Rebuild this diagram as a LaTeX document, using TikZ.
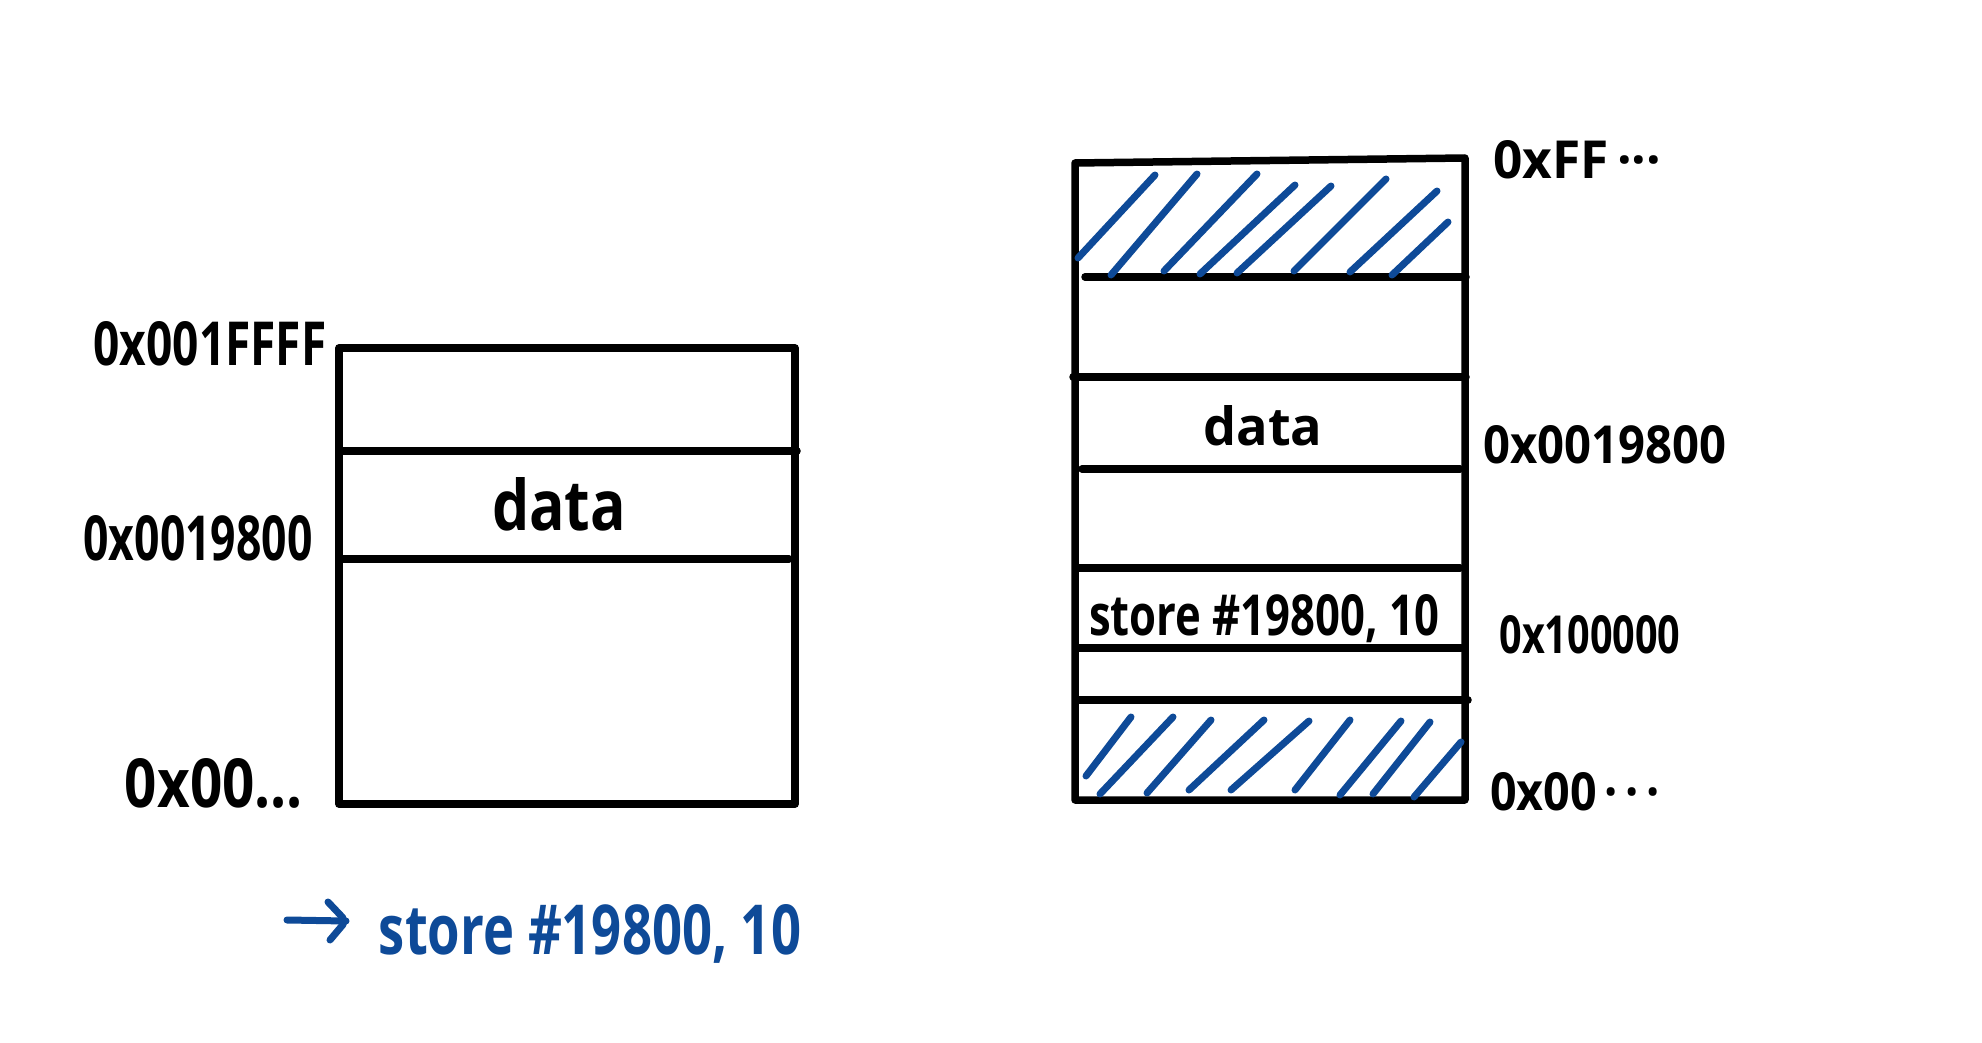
\documentclass[tikz,border=0pt]{standalone}
\usepackage{fontspec}
\setmainfont{Open Sans}
\usepackage{graphicx}
\definecolor{penblue}{RGB}{14,74,152}
\newcommand{\hwtext}[3]{\resizebox{#1pt}{#2pt}{\fontsize{60}{60}\selectfont\bfseries #3}}
\begin{document}
\begin{tikzpicture}[x=1pt,y=-1pt,
  ink/.style={line width=7.5pt, line cap=round, line join=round},
  hatch/.style={draw=penblue, line width=7pt, line cap=round},
  blueink/.style={draw=penblue, line width=7pt, line cap=round, line join=round},
  lbl/.style={inner sep=0pt, outer sep=0pt, anchor=base, text=black},
  bluelbl/.style={inner sep=0pt, outer sep=0pt, anchor=base, text=penblue}]
\useasboundingbox[fill=white] (0,0) rectangle (1982,1043);

% ---------- left memory ----------
\draw[ink] (339,348) rectangle (795,804);
\draw[ink] (341,451) -- (797,451);
\draw[ink] (341,559) -- (789,559);
\node[lbl] (ltop) at (210,365) {\hwtext{233}{44}{0x001FFFF}};
\node[lbl] (laddr) at (198,560) {\hwtext{229}{45}{0x0019800}};
\node[lbl] (lzero) at (214,807) {\hwtext{178}{49}{0x00...}};
\node[lbl] (ldata) at (559,530) {\hwtext{134}{53}{data}};

% ---------- blue instruction ----------
\coordinate (arrS) at (287,920);
\coordinate (arrE) at (346,921);
\coordinate (chevT) at (328,902);
\coordinate (chevB) at (330,940);
\draw[blueink] (arrS) -- (arrE);
\draw[blueink, rounded corners=5pt] (chevT) -- (arrE) -- (chevB);
\node[bluelbl] (bstore) at (590,954) {\hwtext{422}{50}{store \#19800, 10}};

% ---------- right memory ----------
\draw[ink] (1075,163) -- (1465,158) -- (1465,800) -- (1075,800) -- cycle;
\draw[ink] (1085,277) -- (1466,277);
\draw[ink] (1073,377) -- (1466,377);
\draw[ink] (1082,469) -- (1460,469);
\draw[ink] (1079,568) -- (1460,568);
\draw[ink] (1079,648) -- (1461,648);
\draw[ink] (1079,700) -- (1468,700);

% top hatch
\draw[hatch] (1078,258) -- (1155,175);
\draw[hatch] (1111,275) -- (1197,174);
\draw[hatch] (1164,271) -- (1257,174);
\draw[hatch] (1200,274) -- (1295,185);
\draw[hatch] (1237,273) -- (1331,186);
\draw[hatch] (1294,271) -- (1386,179);
\draw[hatch] (1350,272) -- (1437,191);
\draw[hatch] (1392,275) -- (1448,222);
% bottom hatch
\draw[hatch] (1086,776) -- (1131,717);
\draw[hatch] (1100,794) -- (1173,717);
\draw[hatch] (1147,793) -- (1211,720);
\draw[hatch] (1189,790) -- (1264,720);
\draw[hatch] (1231,790) -- (1309,721);
\draw[hatch] (1295,790) -- (1350,720);
\draw[hatch] (1340,795) -- (1401,721);
\draw[hatch] (1373,794) -- (1430,722);
\draw[hatch] (1414,797) -- (1461,742);

\node[lbl] (rdata) at (1263,445) {\hwtext{119}{40}{data}};
\node[lbl] (rstore) at (1264,635) {\hwtext{350}{41}{store \#19800, 10}};
\node[lbl] (rtop) at (1577,179) {\hwtext{168}{38}{0xFF\,···}};
\node[lbl] (raddr) at (1605,463) {\hwtext{243}{38}{0x0019800}};
\node[lbl] (rmid) at (1590,653) {\hwtext{181}{38}{0x100000}};
\node[lbl] (rzero) at (1575,810) {\hwtext{170}{38}{0x00\,·\,·\,·}};
\end{tikzpicture}
\end{document}
